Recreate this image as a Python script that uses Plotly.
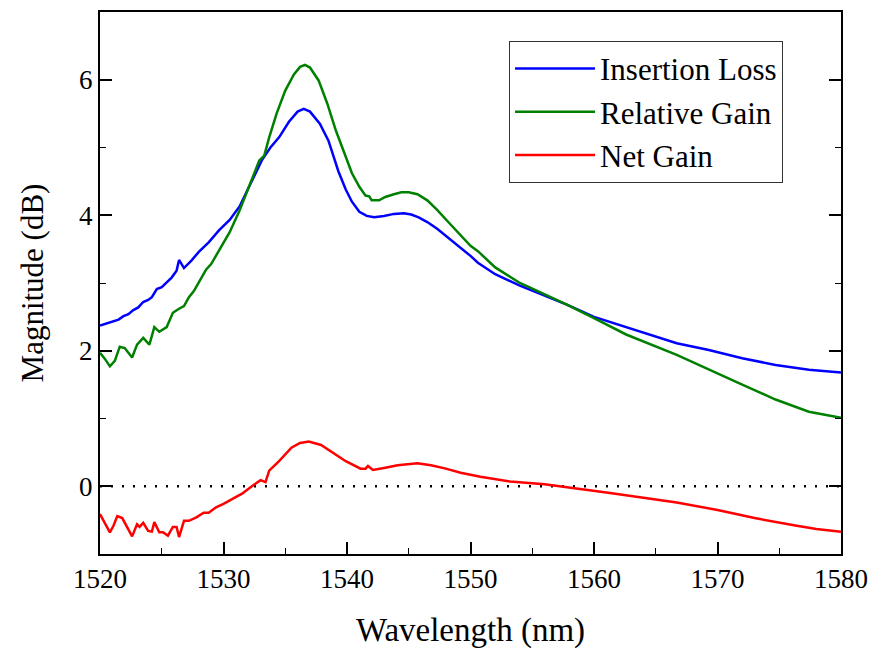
import plotly.graph_objects as go

# ---------------- data ----------------
wl_il = [1520.0, 1520.5, 1521.0, 1521.5, 1521.9, 1522.3, 1522.7, 1523.1, 1523.5, 1523.9,
         1524.2, 1524.6, 1525.0, 1525.4, 1525.8, 1526.2, 1526.4, 1526.8, 1527.4, 1528.0,
         1528.8, 1529.65, 1530.5, 1531.3, 1532.3, 1533.1, 1533.8, 1534.5, 1535.3, 1536.0,
         1536.5, 1537.0, 1537.8, 1538.5, 1539.3, 1539.9, 1540.4, 1541.0, 1541.6, 1542.2,
         1543.0, 1543.8, 1544.6, 1545.2, 1545.8, 1546.5, 1547.3, 1548.2, 1549.2, 1550.0,
         1550.6, 1552.0, 1554.0, 1556.0, 1557.8, 1560.0, 1562.6, 1566.7, 1569.3, 1572.0,
         1574.7, 1577.4, 1580.0]
insertion_loss = [2.37, 2.40, 2.44, 2.46, 2.51, 2.54, 2.60, 2.64, 2.72, 2.75,
                  2.79, 2.91, 2.94, 3.01, 3.08, 3.18, 3.34, 3.22, 3.33, 3.46,
                  3.60, 3.78, 3.93, 4.13, 4.50, 4.81, 5.00, 5.15, 5.38, 5.53,
                  5.57, 5.53, 5.35, 5.10, 4.65, 4.38, 4.20, 4.05, 3.99, 3.97,
                  3.99, 4.02, 4.03, 4.01, 3.97, 3.90, 3.80, 3.67, 3.52, 3.40,
                  3.30, 3.13, 2.96, 2.81, 2.68, 2.50, 2.35, 2.11, 2.01, 1.89,
                  1.79, 1.72, 1.68]

wl_rg = [1520.0, 1520.4, 1520.8, 1521.2, 1521.6, 1522.0, 1522.6, 1523.0, 1523.5, 1524.0,
         1524.4, 1524.8, 1525.4, 1525.9, 1526.4, 1526.8, 1527.2, 1527.6, 1528.0, 1528.6,
         1529.0, 1529.65, 1530.5, 1531.3, 1532.1, 1532.9, 1533.3, 1533.7, 1534.3, 1535.0,
         1535.7, 1536.2, 1536.6, 1537.0, 1537.7, 1538.4, 1539.1, 1539.8, 1540.4, 1541.0,
         1541.5, 1541.8, 1542.0, 1542.6, 1543.1, 1543.8, 1544.4, 1545.0, 1545.7, 1546.5,
         1547.3, 1548.2, 1549.2, 1550.0, 1550.6, 1552.0, 1554.0, 1556.0, 1557.8, 1560.0,
         1562.6, 1566.7, 1569.3, 1572.0, 1574.7, 1577.4, 1580.0]
relative_gain = [1.97, 1.88, 1.77, 1.85, 2.06, 2.04, 1.90, 2.09, 2.19, 2.09,
                 2.35, 2.28, 2.35, 2.56, 2.62, 2.66, 2.79, 2.88, 3.01, 3.20,
                 3.28, 3.49, 3.75, 4.07, 4.43, 4.81, 4.88, 5.15, 5.50, 5.84,
                 6.08, 6.19, 6.22, 6.18, 5.99, 5.65, 5.25, 4.90, 4.62, 4.42,
                 4.29, 4.28, 4.22, 4.22, 4.27, 4.31, 4.34, 4.34, 4.31, 4.22,
                 4.08, 3.90, 3.70, 3.55, 3.47, 3.23, 3.00, 2.83, 2.68, 2.48,
                 2.24, 1.94, 1.72, 1.50, 1.28, 1.10, 1.01]

wl_ng = [1520.0, 1520.4, 1520.8, 1521.1, 1521.4, 1521.8, 1522.2, 1522.6, 1523.0, 1523.2,
         1523.5, 1523.9, 1524.2, 1524.4, 1524.8, 1525.1, 1525.5, 1525.9, 1526.2, 1526.4,
         1526.8, 1527.2, 1527.8, 1528.1, 1528.4, 1528.8, 1529.4, 1530.0, 1530.7, 1531.5,
         1532.3, 1533.0, 1533.4, 1533.7, 1534.5, 1535.5, 1536.2, 1536.9, 1537.9, 1538.9,
         1539.9, 1541.1, 1541.5, 1541.7, 1542.1, 1543.0, 1544.1, 1545.7, 1546.8, 1548.0,
         1549.2, 1550.8, 1553.2, 1556.0, 1558.6, 1561.3, 1564.0, 1566.7, 1570.0, 1573.0,
         1576.3, 1578.0, 1580.0]
net_gain = [-0.41, -0.55, -0.68, -0.58, -0.44, -0.47, -0.60, -0.74, -0.56, -0.60,
            -0.54, -0.66, -0.67, -0.53, -0.68, -0.68, -0.73, -0.60, -0.60, -0.75,
            -0.51, -0.51, -0.46, -0.43, -0.39, -0.39, -0.31, -0.26, -0.19, -0.11,
            0.00, 0.09, 0.06, 0.23, 0.37, 0.57, 0.64, 0.66, 0.61, 0.49,
            0.37, 0.26, 0.26, 0.30, 0.24, 0.27, 0.31, 0.34, 0.31, 0.26,
            0.20, 0.14, 0.07, 0.03, -0.03, -0.10, -0.17, -0.24, -0.35, -0.47,
            -0.58, -0.63, -0.67]

x_ticks = [1520, 1530, 1540, 1550, 1560, 1570, 1580]
y_ticks = [0, 2, 4, 6]

# ---------------- figure ----------------
FONT = "Liberation Serif, Times New Roman, serif"

fig = go.Figure()
fig.add_trace(go.Scatter(x=wl_il, y=insertion_loss, mode="lines", name="Insertion Loss",
                         line=dict(color="#0000FF", width=2.5)))
fig.add_trace(go.Scatter(x=wl_rg, y=relative_gain, mode="lines", name="Relative Gain",
                         line=dict(color="#008000", width=2.5)))
fig.add_trace(go.Scatter(x=wl_ng, y=net_gain, mode="lines", name="Net Gain",
                         line=dict(color="#FF0000", width=2.5)))

fig.add_shape(type="line", xref="paper", yref="y", x0=0, x1=1, y0=0, y1=0,
              line=dict(color="black", width=2.5, dash="2px,9px"), layer="below")

axis_common = dict(
    showgrid=False, zeroline=False, showline=True, linecolor="black", linewidth=2,
    ticks="inside", ticklen=12, tickwidth=1.6, tickcolor="black",
    tickfont=dict(family=FONT, size=27, color="black"),
)

fig.update_xaxes(**axis_common, range=[1520, 1580], tickvals=x_ticks, mirror=True,
                 minor=dict(dtick=5, ticks="inside", ticklen=6, tickwidth=1.4, tickcolor="black"),
                 title=dict(text="Wavelength (nm)", font=dict(family=FONT, size=33, color="black"),
                            standoff=24))
fig.update_yaxes(**axis_common, range=[-1, 7], tickvals=y_ticks, mirror="ticks",
                 minor=dict(dtick=1, ticks="inside", ticklen=6, tickwidth=1.4, tickcolor="black"),
                 title=dict(text="Magnitude (dB)", font=dict(family=FONT, size=31, color="black"),
                            standoff=26))

fig.update_layout(
    width=878, height=652,
    margin=dict(l=100, r=32, t=10, b=97),
    plot_bgcolor="white", paper_bgcolor="white",
    font=dict(family=FONT, color="black"),
    showlegend=True,
    legend=dict(x=0.552, y=0.947, xanchor="left", yanchor="top",
                bgcolor="white", bordercolor="#333333", borderwidth=1,
                font=dict(family=FONT, size=31, color="black"),
                itemwidth=80, tracegroupgap=0),
)

fig.write_html("out.html")
